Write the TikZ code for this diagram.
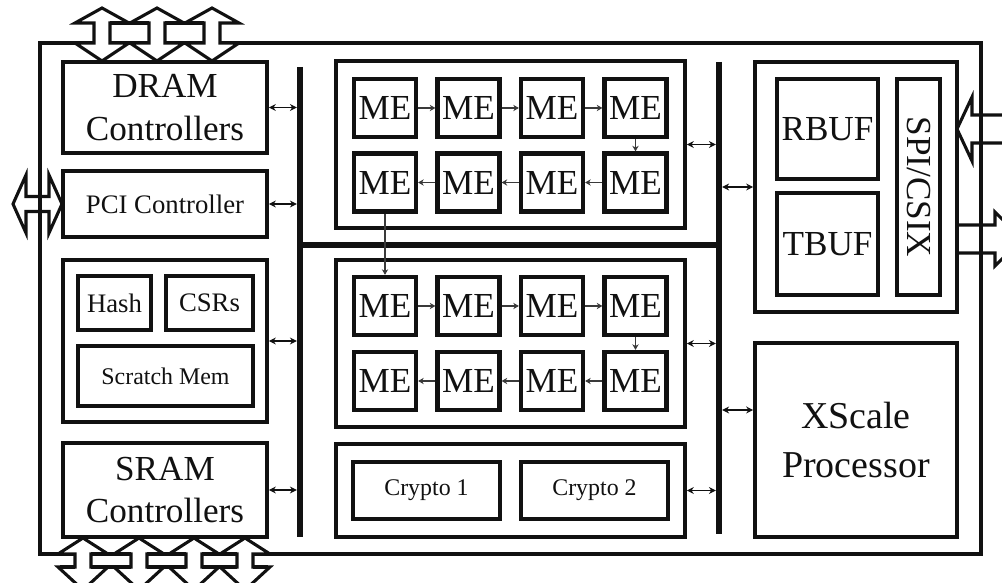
\documentclass[tikz,border=0pt]{standalone}
\usepackage{fontspec}
\setmainfont{Liberation Serif}
\usetikzlibrary{arrows.meta}
\usetikzlibrary{fit}
\definecolor{xpink}{HTML}{111111}
\definecolor{xpgray}{HTML}{3A3A3A}
\newcommand{\xpbig}{\fontsize{25}{30}\selectfont}
\newcommand{\xphuge}{\fontsize{27}{35}\selectfont}
\newcommand{\xpmid}{\fontsize{19}{23}\selectfont}
\newcommand{\xpsmall}{\fontsize{17}{21}\selectfont}
\tikzset{
  xpbox/.style={draw=xpink, line width=2.6pt, inner sep=0pt},
  xplabel/.style={align=center, text=xpink, inner sep=0pt},
  xpcell/.style={
    draw=xpink, line width=3pt, minimum width=1.55cm,
    minimum height=1.45cm, inner sep=0pt, font=\xpbig, text=xpink},
  xpbar/.style={draw=xpink, line width=4.5pt},
  xpbus/.style={
    {Stealth[length=5pt,width=5pt]}-{Stealth[length=5pt,width=5pt]},
    draw=xpink, line width=1.3pt, shorten >=2.2pt},
  xpflow/.style={
    -{Stealth[length=4pt,width=4.5pt]}, draw=xpgray, line width=0.8pt},
  xppin/.style={draw=xpink, line width=2.2pt, line join=miter},
}

\begin{document}
\begin{tikzpicture}[x=0.025cm, y=-0.025cm]
\useasboundingbox (0,0) rectangle (1002,583);
\fill[white] (0,0) rectangle (1002,583);
\clip (0,0) rectangle (1002,583);

% Chip outline.
\node[xpbox, line width=2.2pt, fit={(40,43) (981,554)}] (chip) {};

% Left column.
\node[xpbox, fit={(63,62) (267,153)}] (dram) {};
\node[xplabel, font=\xpbig] (dram-label) at (dram.center)
  {DRAM\\Controllers};
\node[xpbox, fit={(63,171) (267,237)}] (pci) {};
\node[xplabel, font=\xpmid] (pci-label) at (pci.center) {PCI Controller};
\node[xpbox, fit={(63,260) (267,422)}] (misc) {};
\node[xpbox, fit={(78,276) (151,330)}] (hash) {};
\node[xplabel, font=\xpmid] (hash-label) at (hash.center) {Hash};
\node[xpbox, fit={(166,276) (253,330)}] (csrs) {};
\node[xplabel, font=\xpmid] (csrs-label) at (csrs.center) {CSRs};
\node[xpbox, fit={(78,346) (253,406)}] (scratch) {};
\node[xplabel, font=\xpsmall] (scratch-label) at (scratch.center)
  {Scratch Mem};
\node[xpbox, fit={(63,443) (267,537)}] (sram) {};
\node[xplabel, font=\xpbig] (sram-label) at (sram.center)
  {SRAM\\Controllers};

% Buses.
\coordinate (lbus-n) at (300,67);
\coordinate (lbus-s) at (300,537);
\coordinate (rbus-n) at (719,62);
\coordinate (rbus-s) at (719,534);
\coordinate (hbus-w) at (300,245);
\coordinate (hbus-e) at (719,245);
\draw[xpbar] (lbus-n) -- (lbus-s);
\draw[xpbar] (rbus-n) -- (rbus-s);
\draw[xpbar] (hbus-w) -- (hbus-e);

% Microengine clusters.
\node[xpbox, fit={(336,61) (685,228)}] (mega) {};
\node[xpbox, fit={(336,260) (685,427)}] (megb) {};
\foreach \g/\ya/\yb in {a/108/182.5, b/306/381} {
  \foreach \c/\x in {1/385, 2/468.5, 3/552, 4/635.5} {
    \node[xpcell] (me-\g-1-\c) at (\x,\ya) {ME};
    \node[xpcell] (me-\g-2-\c) at (\x,\yb) {ME};
  }
  \foreach \c/\n in {1/2, 2/3, 3/4} {
    \draw[xpflow] (me-\g-1-\c) -- (me-\g-1-\n);
    \draw[xpflow] (me-\g-2-\n) -- (me-\g-2-\c);
  }
  \draw[xpflow] (me-\g-1-4) -- (me-\g-2-4);
}
\draw[xpflow] (me-a-2-1) -- (me-b-1-1);

% Crypto units.
\node[xpbox, fit={(336,444) (685,537)}] (crypto) {};
\node[xpbox, fit={(353,462) (500,519)}] (crypto1) {};
\node[xplabel, font=\xpsmall] (crypto1-label) at (crypto1.center)
  {Crypto 1};
\node[xpbox, fit={(521,462) (668,519)}] (crypto2) {};
\node[xplabel, font=\xpsmall] (crypto2-label) at (crypto2.center)
  {Crypto 2};

% Right column.
\node[xpbox, fit={(755,62) (957,312)}] (rbox) {};
\node[xpbox, fit={(777,79) (878,179)}] (rbuf) {};
\node[xplabel, font=\xpbig] (rbuf-label) at (rbuf.center) {RBUF};
\node[xpbox, fit={(777,193) (878,295)}] (tbuf) {};
\node[xplabel, font=\xpbig] (tbuf-label) at (tbuf.center) {TBUF};
\node[xpbox, fit={(897,79) (940,295)}] (spi) {};
\node[xplabel, rotate=-90, font=\xpbig] (spi-label) at (spi.center)
  {SPI/CSIX};
\node[xpbox, fit={(755,343) (957,537)}] (xscale) {};
\node[xplabel, font=\xphuge] (xscale-label) at (xscale.center)
  {XScale\\Processor};

% Bus connections.
\foreach \blk in {dram, pci, misc, sram} {
  \draw[xpbus] (\blk.east) -- (\blk.east -| lbus-n);
}
\foreach \blk in {mega, megb, crypto} {
  \draw[xpbus] (\blk.east) -- (\blk.east -| rbus-n);
}
\draw[xpbus] (rbox.west) -- (rbox.west -| rbus-n);
\coordinate (xs-port) at ([yshift=0.75cm]xscale.west);
\draw[xpbus] (xs-port) -- (xs-port -| rbus-n);

% External pins: DRAM side.
\foreach \cx in {102,157,212} {
  \draw[xppin, fill=white] (\cx,8) -- (\cx+27,23) -- (\cx+8,23)
    -- (\cx+8,43) -- (\cx+27,43) -- (\cx,61) -- (\cx-27,43)
    -- (\cx-8,43) -- (\cx-8,23) -- (\cx-27,23) -- cycle;
}
\draw[xppin] (110,23) -- (149,23) (165,23) -- (204,23);

% External pins: SRAM side.
\foreach \cx in {83,139,194,245} {
  \draw[xppin, fill=white] (\cx,538) -- (\cx+25,554) -- (\cx+8,554)
    -- (\cx+8,567) -- (\cx+25,567) -- (\cx,590) -- (\cx-25,567)
    -- (\cx-8,567) -- (\cx-8,554) -- (\cx-25,554) -- cycle;
}
\draw[xppin] (91,554) -- (131,554) (147,554) -- (186,554)
  (202,554) -- (237,554);
\draw[xppin] (60,567) -- (75,567) (91,567) -- (131,567)
  (147,567) -- (186,567) (202,567) -- (237,567) (253,567) -- (268,567);

% External pins: PCI and SPI/CSIX.
\draw[xppin] (13,204) -- (26,175) -- (26,196.5) -- (49,196.5)
  -- (49,175) -- (62,204) -- (49,233) -- (49,211.5) -- (26,211.5)
  -- (26,233) -- cycle;
\draw[xppin] (1015,115) -- (972,115) -- (972,97) -- (957,129)
  -- (972,161) -- (972,143) -- (1015,143);
\draw[xppin] (957,225) -- (995,225) -- (995,212) -- (1022,239)
  -- (995,266) -- (995,253) -- (957,253);

\end{tikzpicture}
\end{document}
